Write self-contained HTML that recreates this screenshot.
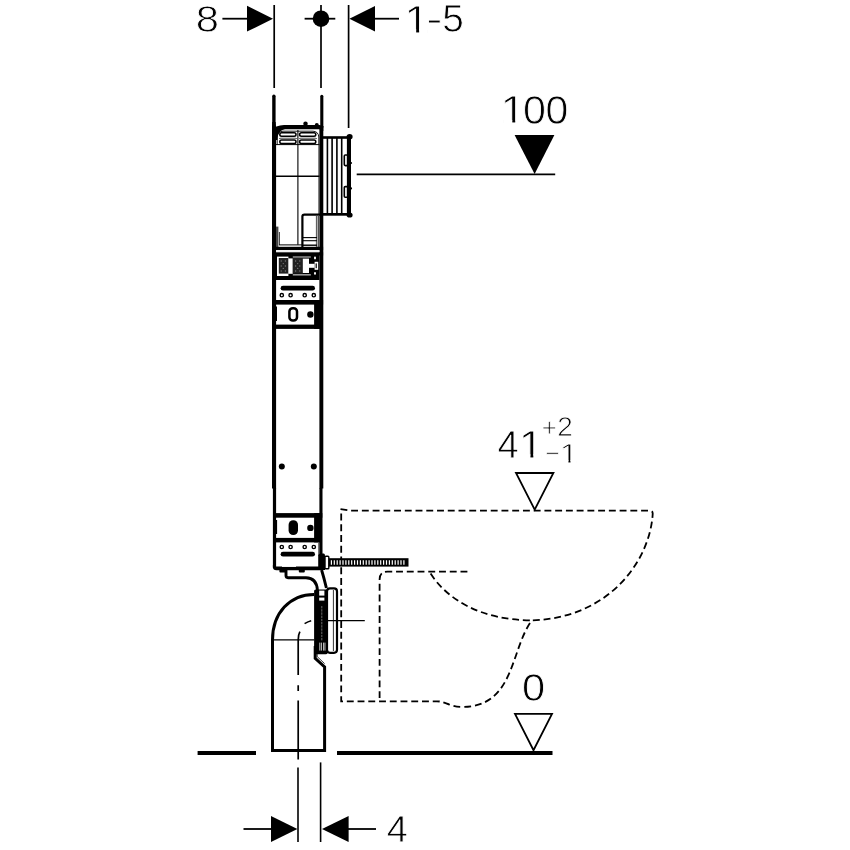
<!DOCTYPE html>
<html>
<head>
<meta charset="utf-8">
<title>Installation dimensions</title>
<style>
html,body{margin:0;padding:0;background:#fff;}
body{width:850px;height:850px;overflow:hidden;font-family:"Liberation Sans",sans-serif;}
svg{display:block;position:absolute;left:0;top:0;}
text{font-family:"Liberation Sans",sans-serif;fill:#000;stroke:#fff;stroke-width:0.8px;}
.k{stroke:#000;fill:none;}
.f{fill:#000;stroke:none;}
.w{fill:#fff;stroke:none;}
.d{stroke:#000;fill:none;stroke-width:1.8;stroke-dasharray:6.9 3.84;}
</style>
</head>
<body>
<svg width="850" height="850" viewBox="0 0 850 850">
<rect x="0" y="0" width="850" height="850" fill="#fff"/>

<!-- ===== top dimension ===== -->
<g id="topdim">
<line class="k" x1="274.2" y1="5" x2="274.2" y2="88" stroke-width="1.7"/>
<line class="k" x1="321" y1="5" x2="321" y2="88" stroke-width="1.7"/>
<line class="k" x1="348.6" y1="5" x2="348.6" y2="128" stroke-width="1.7"/>
<line class="k" x1="222.4" y1="18.7" x2="250" y2="18.7" stroke-width="1.8"/>
<polygon class="f" points="247,5.8 247,31.6 273,18.7"/>
<line class="k" x1="304.6" y1="18.7" x2="335.3" y2="18.7" stroke-width="1.8"/>
<circle class="f" cx="321" cy="18.7" r="8.3"/>
<polygon class="f" points="375,6 375,31.4 349.4,18.7"/>
<line class="k" x1="372" y1="18.7" x2="399" y2="18.7" stroke-width="1.8"/>
</g>

<!-- ===== 100 level ===== -->
<g id="lvl100">
<line class="k" x1="356.7" y1="174.3" x2="555.2" y2="174.3" stroke-width="1.7"/>
<polygon class="f" points="514.6,135 554.4,135 534.6,174"/>
</g>

<!-- ===== 41 level ===== -->
<g id="lvl41">
<polygon class="k" points="516,473 553.4,473 534.7,509.6" stroke-width="1.8"/>
</g>

<!-- ===== 0 level ===== -->
<g id="lvl0">
<polygon class="k" points="515,713.8 552,713.8 533.5,750.2" stroke-width="1.8"/>
<line class="k" x1="197.6" y1="753" x2="256" y2="753" stroke-width="3.9"/>
<line class="k" x1="337" y1="753" x2="552.5" y2="753" stroke-width="3.9"/>
</g>

<!-- ===== bottom dimension ===== -->
<g id="botdim">
<line class="k" x1="298" y1="767.6" x2="298" y2="842" stroke-width="1.6"/>
<line class="k" x1="320.6" y1="762.4" x2="320.6" y2="842" stroke-width="1.6"/>
<line class="k" x1="243.5" y1="829" x2="274" y2="829" stroke-width="1.8"/>
<polygon class="f" points="271,816 271,842 297.4,829"/>
<polygon class="f" points="348.6,816 348.6,842 322,829"/>
<line class="k" x1="346" y1="829" x2="376" y2="829" stroke-width="1.8"/>
</g>

<!-- ===== toilet (dashed) ===== -->
<g id="toilet">
<path class="d" d="M340.5,509.2 L347.4,510.2 L349,510.6 L650,510.6 Q652.9,510.7 652.7,514 C650,560 610,618 531.8,620.4"/>
<path class="d" d="M341.2,513.6 L341.2,701.3 L437,701.3 C445,701.3 450,706.9 462,706.9 C515,706.9 510,650 531.8,620.4"/>
<path class="d" d="M430.6,573.6 C447,599 480,620 531.8,620.4"/>
<path class="d" d="M467.4,571.6 L387.4,571.6 Q379.6,571.6 379.6,579.6 L379.6,701"/>
</g>

<!-- ===== frame ===== -->
<g id="frame">
<!-- thin extension lines above walls -->
<!-- walls -->
<path class="k" d="M273.9,96.2 L273.9,127" stroke-width="3.4" stroke-linecap="round"/>
<path class="k" d="M321.8,96.2 L321.8,127" stroke-width="3.1" stroke-linecap="round"/>
<path class="f" d="M272.2,122 L272,128 L272,488.5 L276.1,488.5 L276.1,128 L275.6,122 Z"/>
<rect class="f" x="272.9" y="488" width="3.2" height="80"/>
<rect class="f" x="319.4" y="126" width="3.9" height="362.5"/>
<rect class="f" x="319.4" y="488" width="3.1" height="68"/>

<!-- tank top -->
<path class="f" d="M272,138 L272,130.6 Q272.6,127.6 276.4,126.6 Q280,125.2 284,124.9 L319.4,124.9 L323.3,126 L323.3,131 L319.4,129.3 L285,129.2 Q279.4,130.2 277.8,135.6 L277.4,140 L276.1,140 L272,140 Z"/>
<circle class="f" cx="305.5" cy="123.7" r="2.25"/>
<circle class="f" cx="316.8" cy="125" r="2"/>
<!-- inner tank outline -->
<path class="k" d="M277.2,144.6 L277.2,137 Q277.6,131.4 283,131.2 L313,131.2 Q318.4,131.4 318.8,137 L318.8,144.6" stroke-width="0.9" stroke="#444"/>
<!-- vents -->
<g class="k" stroke-width="1.55">
<rect x="279.8" y="132.7" width="16.2" height="3.5" rx="1.75"/>
<rect x="299.6" y="132.7" width="16.2" height="3.5" rx="1.75"/>
<rect x="279.8" y="140" width="16.2" height="3.5" rx="1.75"/>
<rect x="299.6" y="140" width="16.2" height="3.5" rx="1.75"/>
</g>
<g class="k" stroke-width="0.7" stroke="#555">
<path d="M279,139 Q279.4,138.2 281,138.2 L295,138.2 Q296.6,138.2 297,139"/>
<path d="M299,139 Q299.4,138.2 301,138.2 L315,138.2 Q316.6,138.2 317,139"/>
</g>
<line class="k" x1="276" y1="144.6" x2="319.5" y2="144.6" stroke-width="1"/>
<line class="k" x1="297.9" y1="130" x2="297.9" y2="244.8" stroke-width="1.1"/>
<line class="k" x1="276" y1="176.3" x2="319.5" y2="176.3" stroke-width="1.5"/>
<line class="k" x1="318.9" y1="145" x2="318.9" y2="214" stroke-width="0.8" stroke="#333"/>

<!-- rib box -->
<rect class="f" x="322.5" y="136.2" width="26" height="2.6"/>
<rect class="f" x="322.5" y="213" width="26" height="2.7"/>
<g class="k" stroke-width="1.6">
<line x1="327.4" y1="138" x2="327.4" y2="214"/>
<line x1="332.1" y1="138" x2="332.1" y2="214"/>
<line x1="336.9" y1="138" x2="336.9" y2="214"/>
<line x1="341.7" y1="138" x2="341.7" y2="214"/>
</g>
<rect class="f" x="346.9" y="136.3" width="4.1" height="79.3"/>
<ellipse class="f" cx="349.6" cy="136.7" rx="3" ry="2.6"/>
<ellipse class="f" cx="349.6" cy="215" rx="3" ry="2.6"/>
<rect class="k" x="344.3" y="155" width="3.4" height="10.6" rx="1" stroke-width="1.6" fill="#fff"/>
<rect class="k" x="344.3" y="186.6" width="3.4" height="10.6" rx="1" stroke-width="1.6" fill="#fff"/>
<circle class="f" cx="351" cy="163" r="1.1"/>
<circle class="f" cx="351" cy="188.4" r="1.1"/>

<!-- step inside tank -->
<path class="k" d="M321,214.6 L304.4,214.6 Q302.4,214.6 302.4,216.6 L302.4,247" stroke-width="2.2"/>
<line class="k" x1="318.2" y1="216" x2="318.2" y2="247" stroke-width="1" stroke="#333"/>
<line class="k" x1="316.4" y1="216" x2="316.4" y2="247" stroke-width="0.7" stroke="#777"/>
<line class="k" x1="303" y1="237.6" x2="317" y2="237.6" stroke-width="1.1"/>
<line class="k" x1="303" y1="240.7" x2="317" y2="240.7" stroke-width="1.1"/>
<line class="k" x1="303" y1="245.2" x2="317" y2="245.2" stroke-width="1.4" stroke="#333"/>
<line class="k" x1="279" y1="244.9" x2="302" y2="244.9" stroke-width="1"/>
<line class="k" x1="279.4" y1="232" x2="279.4" y2="245" stroke-width="0.8" stroke="#555"/>
<rect x="276" y="226.6" width="2.4" height="20.6" fill="#444"/>

<!-- tank bottom bands -->
<rect class="f" x="272.3" y="246.8" width="50.8" height="3.2"/>
<rect class="f" x="272.3" y="252.3" width="50.8" height="3.2"/>
<rect x="276.1" y="250.3" width="43.4" height="1.6" fill="#eee"/>

<!-- valve block -->
<rect class="f" x="276" y="255" width="43.5" height="25"/>
<rect class="w" x="277" y="256.6" width="11.4" height="19.4"/>
<rect x="278.8" y="258" width="9.4" height="15.6" fill="#222"/>
<rect class="w" x="288.4" y="258.4" width="4.4" height="15.4"/>
<rect x="292.8" y="258" width="10" height="15.6" fill="#222"/>
<rect x="292.8" y="256.3" width="18" height="1.4" fill="#999"/>
<rect x="292.8" y="274" width="18" height="1.6" fill="#999"/>
<rect class="w" x="302.8" y="258.6" width="6.2" height="14.4"/>
<rect class="w" x="308.8" y="263.8" width="5.8" height="4"/>
<rect class="w" x="314.6" y="261.8" width="3.6" height="8"/>
<rect class="f" x="315.6" y="263.4" width="1.2" height="4.8"/>
<ellipse class="w" cx="315" cy="258" rx="1" ry="1.4"/>
<ellipse class="w" cx="315" cy="273.4" rx="1" ry="1.4"/>
<g fill="#777">
<circle cx="281.2" cy="261" r="0.7"/><circle cx="285.4" cy="261" r="0.7"/><circle cx="283.3" cy="263.6" r="0.7"/>
<circle cx="281.2" cy="266" r="0.7"/><circle cx="285.4" cy="266" r="0.7"/><circle cx="283.3" cy="268.4" r="0.7"/>
<circle cx="281.2" cy="271" r="0.7"/><circle cx="285.4" cy="271" r="0.7"/>
<circle cx="295.6" cy="261" r="0.7"/><circle cx="299.8" cy="261" r="0.7"/><circle cx="297.7" cy="263.6" r="0.7"/>
<circle cx="295.6" cy="266" r="0.7"/><circle cx="299.8" cy="266" r="0.7"/><circle cx="297.7" cy="268.4" r="0.7"/>
<circle cx="295.6" cy="271" r="0.7"/><circle cx="299.8" cy="271" r="0.7"/>
</g>

<!-- upper plate with slot + holes -->
<rect class="f" x="280.6" y="285.8" width="34.4" height="4.8" rx="2.4"/>
<g class="k" stroke-width="1.4" style="fill:#fff">
<circle cx="281.8" cy="295.2" r="1.65"/><circle cx="290.6" cy="295.2" r="1.65"/><circle cx="304.7" cy="295.2" r="1.65"/><circle cx="313.8" cy="295.2" r="1.65"/>
</g>

<!-- upper bracket -->
<rect class="f" x="272.3" y="300" width="50.8" height="4.6"/>
<rect class="f" x="272.3" y="324.6" width="48" height="4.3"/>
<rect class="f" x="314.1" y="300" width="6" height="28.9"/>
<rect class="f" x="275.5" y="306.5" width="1.5" height="14.5"/>
<rect class="k" x="289.4" y="308.2" width="7.6" height="12.4" rx="3.4" stroke-width="2.5"/>
<circle class="f" cx="310.4" cy="314.5" r="3.2"/>

<!-- mid dots -->
<circle class="f" cx="281.8" cy="466.5" r="3"/>
<circle class="f" cx="313.8" cy="466.5" r="3"/>

<!-- lower bracket -->
<rect class="f" x="273.1" y="513.1" width="49.2" height="4.6"/>
<rect class="f" x="273.1" y="537.9" width="47" height="4.5"/>
<rect class="f" x="314.1" y="513.1" width="6" height="29.3"/>
<rect class="f" x="275.5" y="520" width="1.6" height="14"/>
<rect class="f" x="288.6" y="520.2" width="9.4" height="14.8" rx="4.6"/>
<circle class="f" cx="310.4" cy="527.9" r="3.2"/>

<!-- lower plate -->
<g class="k" stroke-width="1.4" style="fill:#fff">
<circle cx="281.8" cy="547" r="1.65"/><circle cx="290.6" cy="547" r="1.65"/><circle cx="304.7" cy="547" r="1.65"/><circle cx="313.8" cy="547" r="1.65"/>
</g>
<rect class="f" x="280.6" y="551.8" width="34.4" height="4.8" rx="2.4"/>
<line class="k" x1="318.9" y1="543" x2="318.9" y2="556" stroke-width="0.9" stroke="#333"/>

<!-- frame bottom -->
<path class="f" d="M272.9,565 L272.9,567 Q273,570.3 276.4,570.3 L322.3,570.3 L322.3,566.4 L276.1,566.4 Z"/>
<rect class="f" x="279.4" y="568" width="6.8" height="4.6" rx="1"/>
<rect class="f" x="298.8" y="568" width="6" height="4.6" rx="1"/>
<rect class="w" x="282" y="566" width="14" height="0.9"/>

<!-- nut + threaded rod -->
<path class="f" d="M318.2,556 Q318.2,553.4 321,553.4 L323.6,553.4 Q325,553.4 325,555.4 L325,570 L318.2,570 Z"/>
<rect class="k" x="325" y="556.2" width="3.8" height="12.6" rx="0.8" stroke-width="1.4" fill="#fff"/>
<rect class="f" x="328.8" y="558.2" width="79.7" height="8.4"/>
<g stroke="#fff" stroke-width="1.2">
<path d="M331.4,560.2v4.6 M334.3,560.2v4.6 M337.2,560.2v4.6 M340.1,560.2v4.6 M343,560.2v4.6 M345.9,560.2v4.6 M348.8,560.2v4.6 M351.7,560.2v4.6 M354.6,560.2v4.6 M357.5,560.2v4.6 M360.4,560.2v4.6 M363.3,560.2v4.6 M366.2,560.2v4.6 M369.1,560.2v4.6 M372,560.2v4.6 M374.9,560.2v4.6 M377.8,560.2v4.6 M380.7,560.2v4.6 M383.6,560.2v4.6 M386.5,560.2v4.6 M389.4,560.2v4.6 M392.3,560.2v4.6 M395.2,560.2v4.6 M398.1,560.2v4.6 M401,560.2v4.6 M403.9,560.2v4.6"/>
</g>

<!-- pipe bracket strap -->
<path class="k" d="M286,570 L286,575.6 Q286,577.7 288,577.7 L306,577.7 Q316.6,578 317.4,590" stroke-width="2.9"/>
<path class="k" d="M321.6,570 Q324,578 326.4,588" stroke-width="2.9"/>

<!-- connector -->
<rect class="f" x="314.1" y="589.4" width="13.6" height="64.8" rx="1.6"/>
<rect class="w" x="319.2" y="590.6" width="5.2" height="5"/>
<rect class="w" x="319.2" y="597.6" width="5.2" height="3"/>
<line x1="321.8" y1="606" x2="321.8" y2="641" stroke="#888" stroke-width="0.8" stroke-dasharray="2.4 0.8"/>
<g stroke="#ddd" stroke-width="0.9">
<path d="M319.8,642.6v8 M321.4,642.6v8 M323.6,642.6v8 M325,642.6v8"/>
</g>
<rect class="k" x="327" y="588.4" width="10" height="64.4" rx="3" stroke-width="2.2" fill="#fff"/>
<line class="k" x1="333.4" y1="590" x2="333.4" y2="651" stroke-width="0.8" stroke="#333"/>
<line class="k" x1="327.6" y1="620.6" x2="364.8" y2="620.6" stroke-width="1.3"/>

<!-- pipe elbow -->
<path class="k" d="M314.1,594.4 C290,594.4 272.5,613 272.5,640 L272.5,750.4 L324.6,750.4 L324.6,667 L315.2,658.4 L315.2,646" stroke-width="3" stroke-linejoin="miter"/>
<path class="k" d="M317.2,654 L317.2,656.6 L324.6,663.6" stroke-width="0.8" stroke="#444"/>
<line class="k" x1="272.5" y1="639.8" x2="314.1" y2="639.8" stroke-width="1.3"/>
<!-- centerline -->
<path class="k" d="M311.2,620.8 Q308,621.6 304.6,623.6" stroke-width="1.6"/>
<path class="k" d="M299.9,631.6 Q298.2,634.6 298.2,640 L298.2,675 M298.2,685.2 L298.2,691 M298.2,700.6 L298.2,759.6" stroke-width="1.7"/>
</g>

<!-- TEXT START -->
<g id="labels" style="opacity:0.999">
<text transform="translate(195.81,32.02) scale(1.106,1)" font-size="37.71" stroke-width="0.8">8</text>
<text transform="translate(404.32,32.55) scale(1.157,1)" font-size="38.95" stroke-width="1.1">1</text>
<rect class="w" x="407.03" y="29.12" width="9.14" height="4.43"/>
<rect class="w" x="419.12" y="29.12" width="8.64" height="4.43"/>
<text transform="translate(426.36,31.00) scale(1.292,1)" font-size="37.60" stroke-width="0.8">-</text>
<text transform="translate(442.25,32.32) scale(1.011,1)" font-size="38.40" stroke-width="0.8">5</text>
<text transform="translate(500.56,123.45) scale(1.138,1)" font-size="39.24" stroke-width="1.1">1</text>
<rect class="w" x="503.24" y="120.00" width="9.06" height="4.45"/>
<rect class="w" x="515.22" y="120.00" width="8.57" height="4.45"/>
<text transform="translate(523.09,123.60) scale(1.035,1)" font-size="39.83" stroke-width="0.8">0</text>
<text transform="translate(545.50,123.60) scale(1.029,1)" font-size="39.83" stroke-width="0.8">0</text>
<text transform="translate(497.42,457.60) scale(0.990,1)" font-size="38.66" stroke-width="0.8">4</text>
<text transform="translate(518.80,457.75) scale(1.132,1)" font-size="39.10" stroke-width="1.1">1</text>
<rect class="w" x="521.46" y="454.31" width="8.98" height="4.44"/>
<rect class="w" x="533.32" y="454.31" width="8.50" height="4.44"/>
<text transform="translate(541.66,435.57) scale(0.990,1)" font-size="26.07" stroke-width="0.55">+</text>
<text transform="translate(557.13,435.88) scale(1.030,1)" font-size="27.15" stroke-width="0.55">2</text>
<text transform="translate(545.00,461.68) scale(0.969,1)" font-size="25.80" stroke-width="0.55">−</text>
<text transform="translate(559.75,462.50) scale(1.226,1)" font-size="26.74" stroke-width="0.8">1</text>
<rect class="w" x="561.72" y="460.15" width="6.65" height="3.35"/>
<rect class="w" x="570.52" y="460.15" width="6.29" height="3.35"/>
<text transform="translate(522.08,701.41) scale(1.072,1)" font-size="38.84" stroke-width="0.8">0</text>
<text transform="translate(386.63,841.90) scale(1.015,1)" font-size="37.35" stroke-width="0.8">4</text>
</g>
<!-- TEXT END -->
</svg>
</body>
</html>
